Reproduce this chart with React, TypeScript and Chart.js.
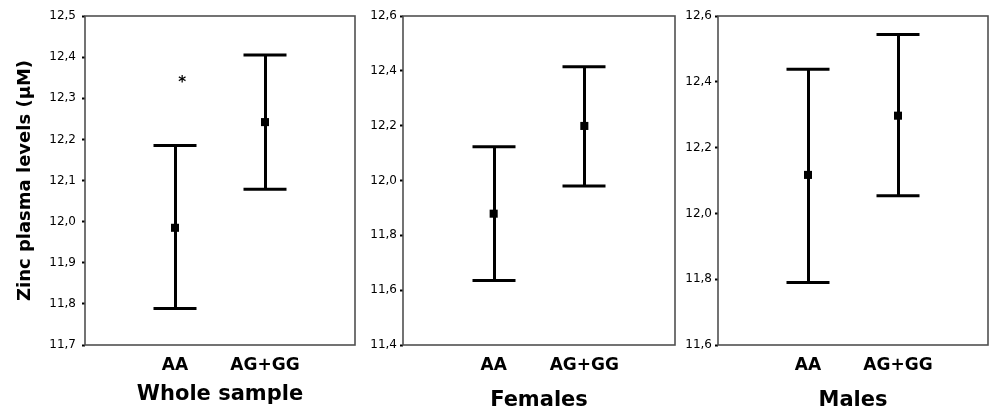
import React, { useEffect, useRef } from 'react';
import { Chart, registerables } from 'chart.js';

Chart.register(...registerables);

// ---------- data ----------
const categories = ['AA', 'AG+GG'];
const categoryPositions = [1, 2];
const panelTitles = ['Whole sample', 'Females', 'Males'];
const yAxisTitle = 'Zinc plasma levels (µM)';

const wholeMean = [11.985, 12.242];
const wholeLower = [11.789, 12.079];
const wholeUpper = [12.185, 12.405];

const femalesMean = [11.879, 12.199];
const femalesLower = [11.635, 11.98];
const femalesUpper = [12.123, 12.415];

const malesMean = [12.117, 12.297];
const malesLower = [11.79, 12.054];
const malesUpper = [12.438, 12.544];

const wholeTicks = [11.7, 11.8, 11.9, 12.0, 12.1, 12.2, 12.3, 12.4, 12.5];
const wholeTickLabels = ['11,7', '11,8', '11,9', '12,0', '12,1', '12,2', '12,3', '12,4', '12,5'];
const femalesTicks = [11.4, 11.6, 11.8, 12.0, 12.2, 12.4, 12.6];
const femalesTickLabels = ['11,4', '11,6', '11,8', '12,0', '12,2', '12,4', '12,6'];
const malesTicks = [11.6, 11.8, 12.0, 12.2, 12.4, 12.6];
const malesTickLabels = ['11,6', '11,8', '12,0', '12,2', '12,4', '12,6'];

// significance mark (whole sample, AA)
const wholeMarkX = [1.08];
const wholeMarkY = [12.337];
const wholeMarkText = ['*'];

// ---------- layout ----------
const FONT = "'DejaVu Sans', 'Liberation Sans', Arial, sans-serif";
const H = 411;

type Panel = {
  left: number;
  width: number;
  yWidth: number;
  padRight: number;
  tickPad: number;
  titlePadBottom: number;
  title: string;
  yTitle: boolean;
  mean: number[];
  lower: number[];
  upper: number[];
  ticks: number[];
  tickLabels: string[];
  marksX: number[];
  marksY: number[];
  marksText: string[];
};

const panels: Panel[] = [
  {
    left: 0, width: 358, yWidth: 85, padRight: 3, tickPad: 6, titlePadBottom: 6,
    title: panelTitles[0], yTitle: true,
    mean: wholeMean, lower: wholeLower, upper: wholeUpper,
    ticks: wholeTicks, tickLabels: wholeTickLabels,
    marksX: wholeMarkX, marksY: wholeMarkY, marksText: wholeMarkText,
  },
  {
    left: 358, width: 319, yWidth: 45, padRight: 2, tickPad: 3, titlePadBottom: 0,
    title: panelTitles[1], yTitle: false,
    mean: femalesMean, lower: femalesLower, upper: femalesUpper,
    ticks: femalesTicks, tickLabels: femalesTickLabels,
    marksX: [], marksY: [], marksText: [],
  },
  {
    left: 677, width: 313, yWidth: 41, padRight: 2, tickPad: 3, titlePadBottom: 0,
    title: panelTitles[2], yTitle: false,
    mean: malesMean, lower: malesLower, upper: malesUpper,
    ticks: malesTicks, tickLabels: malesTickLabels,
    marksX: [], marksY: [], marksText: [],
  },
];

function PanelChart({ p }: { p: Panel }) {
  const ref = useRef<HTMLCanvasElement | null>(null);

  useEffect(() => {
    if (!ref.current) return;

    const errorBars = {
      id: 'errorBars',
      beforeDatasetsDraw(chart: any) {
        const { ctx, scales } = chart;
        const x = scales.x;
        const y = scales.y;
        const capHalf = 21.5;
        ctx.save();
        ctx.strokeStyle = '#000';
        ctx.lineWidth = 3;
        ctx.lineCap = 'butt';
        categoryPositions.forEach((pos, i) => {
          const px = Math.round(x.getPixelForValue(pos));
          const lo = y.getPixelForValue(p.lower[i]);
          const hi = y.getPixelForValue(p.upper[i]);
          ctx.beginPath();
          ctx.moveTo(px + 0.5, lo);
          ctx.lineTo(px + 0.5, hi);
          ctx.moveTo(px - capHalf, lo);
          ctx.lineTo(px + capHalf, lo);
          ctx.moveTo(px - capHalf, hi);
          ctx.lineTo(px + capHalf, hi);
          ctx.stroke();
        });
        ctx.restore();
      },
    };

    const frame = {
      id: 'frame',
      afterDraw(chart: any) {
        const { ctx, chartArea, scales } = chart;
        ctx.save();
        ctx.strokeStyle = '#505050';
        ctx.lineWidth = 1.6;
        ctx.strokeRect(chartArea.left, chartArea.top, chartArea.right - chartArea.left, chartArea.bottom - chartArea.top);
        ctx.fillStyle = '#000';
        ctx.font = `bold 15px ${FONT}`;
        ctx.textAlign = 'center';
        ctx.textBaseline = 'middle';
        p.marksText.forEach((t, i) => {
          ctx.fillText(t, scales.x.getPixelForValue(p.marksX[i]), scales.y.getPixelForValue(p.marksY[i]));
        });
        ctx.restore();
      },
    };

    const chart = new Chart(ref.current, {
      type: 'scatter',
      data: {
        datasets: [
          {
            data: categoryPositions.map((x, i) => ({ x, y: p.mean[i] })),
            pointStyle: 'rect',
            pointRadius: 5.7,
            pointHoverRadius: 5.7,
            backgroundColor: '#000',
            borderColor: '#000',
            borderWidth: 0,
            showLine: false,
          },
        ],
      },
      options: {
        animation: false,
        responsive: false,
        events: [],
        layout: { autoPadding: false, padding: { top: 16, right: p.padRight, bottom: 0, left: 0 } },
        plugins: {
          legend: { display: false },
          tooltip: { enabled: false },
        },
        scales: {
          x: {
            type: 'linear',
            min: 0,
            max: 3,
            afterBuildTicks: (s: any) => {
              s.ticks = categoryPositions.map((v) => ({ value: v }));
            },
            afterFit: (s: any) => {
              s.height = 66;
            },
            grid: { display: false, drawTicks: false },
            border: { display: false },
            ticks: {
              padding: 10,
              color: '#000',
              font: { family: FONT, size: 17, weight: 'bold' },
              maxRotation: 0,
              autoSkip: false,
              callback: (_v: any, i: number) => categories[i],
            },
            title: {
              display: true,
              text: p.title,
              color: '#000',
              font: { family: FONT, size: 21, weight: 'bold', lineHeight: 1 },
              padding: { top: 0, bottom: p.titlePadBottom },
            },
          },
          y: {
            type: 'linear',
            min: p.ticks[0],
            max: p.ticks[p.ticks.length - 1],
            afterBuildTicks: (s: any) => {
              s.ticks = p.ticks.map((v) => ({ value: v }));
            },
            afterFit: (s: any) => {
              s.width = p.yWidth;
            },
            grid: {
              display: true,
              drawOnChartArea: false,
              drawTicks: true,
              tickLength: 3,
              tickWidth: 2,
              tickColor: '#000',
            },
            border: { display: false },
            ticks: {
              padding: p.tickPad,
              color: '#000',
              font: { family: FONT, size: 12 },
              autoSkip: false,
              callback: (_v: any, i: number) => p.tickLabels[i],
            },
            title: {
              display: p.yTitle,
              text: yAxisTitle,
              color: '#000',
              font: { family: FONT, size: 18, weight: 'bold', lineHeight: 1 },
              padding: { top: 16, bottom: 0 },
            },
          },
        },
      } as any,
      plugins: [errorBars, frame],
    });

    return () => chart.destroy();
  }, [p]);

  return (
    <div style={{ position: 'absolute', left: p.left, top: 0, width: p.width, height: H }}>
      <canvas ref={ref} width={p.width} height={H} style={{ width: p.width, height: H, display: 'block' }} />
    </div>
  );
}

export default function App() {
  return (
    <div style={{ position: 'absolute', left: 0, top: 0, width: 990, height: H, background: '#fff', overflow: 'hidden' }}>
      {panels.map((p, i) => (
        <PanelChart key={i} p={p} />
      ))}
    </div>
  );
}
